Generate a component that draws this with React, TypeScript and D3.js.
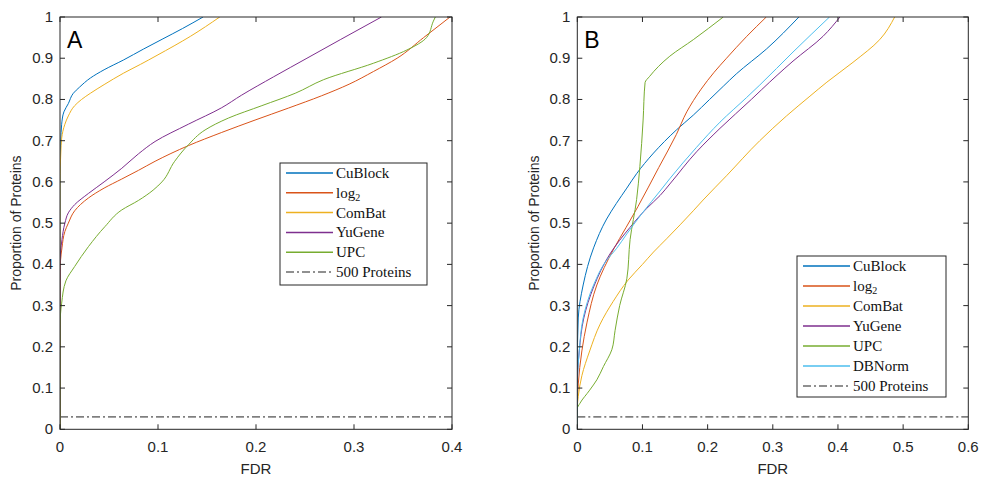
import React from "react";
import * as d3 from "d3";

// ---------- Data ----------
const yTicks = [0, 0.1, 0.2, 0.3, 0.4, 0.5, 0.6, 0.7, 0.8, 0.9, 1];
const xTicksA = [0, 0.1, 0.2, 0.3, 0.4];
const xTicksB = [0, 0.1, 0.2, 0.3, 0.4, 0.5, 0.6];
const thresholdValue = 0.03;

// Panel A series [FDR, proportion]
const cublockA: [number, number][] = [
  [0, 0], [0, 0.62], [0.0008, 0.7], [0.0017, 0.74], [0.004, 0.77], [0.0085, 0.79], [0.0136, 0.815],
  [0.02, 0.83], [0.031, 0.852], [0.045, 0.872], [0.065, 0.896], [0.085, 0.922], [0.105, 0.947],
  [0.125, 0.972], [0.146, 1],
];
const log2A: [number, number][] = [
  [0, 0], [0, 0.38], [0.002, 0.44], [0.005, 0.48], [0.0085, 0.5], [0.015, 0.53], [0.029, 0.561],
  [0.045, 0.585], [0.063, 0.607], [0.08, 0.628], [0.097, 0.65], [0.131, 0.688], [0.165, 0.72],
  [0.199, 0.75], [0.233, 0.779], [0.267, 0.809], [0.295, 0.837], [0.32, 0.868], [0.344, 0.9],
  [0.371, 0.95], [0.398, 1],
];
const combatA: [number, number][] = [
  [0, 0], [0, 0.6], [0.0008, 0.67], [0.0017, 0.706], [0.005, 0.74], [0.0085, 0.76], [0.015, 0.785],
  [0.022, 0.8], [0.031, 0.815], [0.045, 0.836], [0.065, 0.864], [0.082, 0.885], [0.099, 0.907],
  [0.133, 0.953], [0.163, 1],
];
const yugeneA: [number, number][] = [
  [0, 0], [0, 0.4], [0.002, 0.46], [0.005, 0.5], [0.0085, 0.525], [0.015, 0.545], [0.029, 0.572],
  [0.045, 0.6], [0.063, 0.633], [0.08, 0.668], [0.097, 0.698], [0.131, 0.74], [0.165, 0.78],
  [0.185, 0.81], [0.218, 0.855], [0.252, 0.9], [0.286, 0.945], [0.328, 1],
];
const upcA: [number, number][] = [
  [0, 0], [0, 0.25], [0.0017, 0.306], [0.006, 0.36], [0.015, 0.395], [0.029, 0.443], [0.046, 0.492],
  [0.063, 0.532], [0.08, 0.555], [0.095, 0.58], [0.104, 0.6], [0.117, 0.65], [0.131, 0.69],
  [0.148, 0.726], [0.172, 0.755], [0.206, 0.785], [0.24, 0.815], [0.269, 0.848], [0.32, 0.888],
  [0.354, 0.92], [0.374, 0.95], [0.381, 0.99], [0.383, 1],
];

// Panel B series [FDR, proportion]
const cublockB: [number, number][] = [
  [0, 0], [0, 0.15], [0.0015, 0.27], [0.009, 0.35], [0.025, 0.44], [0.045, 0.51], [0.06, 0.548],
  [0.076, 0.585], [0.091, 0.62], [0.117, 0.67], [0.152, 0.726], [0.178, 0.762], [0.203, 0.8],
  [0.224, 0.832], [0.244, 0.862], [0.29, 0.922], [0.34, 1],
];
const log2B: [number, number][] = [
  [0, 0], [0, 0.05], [0.0015, 0.11], [0.007, 0.19], [0.015, 0.26], [0.03, 0.35], [0.055, 0.435],
  [0.075, 0.49], [0.093, 0.54], [0.125, 0.635], [0.152, 0.715], [0.168, 0.77], [0.19, 0.825],
  [0.21, 0.866], [0.229, 0.9], [0.26, 0.953], [0.29, 1],
];
const combatB: [number, number][] = [
  [0, 0], [0, 0.05], [0.0015, 0.08], [0.007, 0.13], [0.019, 0.19], [0.035, 0.255], [0.055, 0.31],
  [0.078, 0.362], [0.1, 0.4], [0.117, 0.43], [0.137, 0.462], [0.178, 0.53], [0.193, 0.556],
  [0.229, 0.615], [0.28, 0.7], [0.321, 0.76], [0.357, 0.808], [0.383, 0.842], [0.423, 0.89],
  [0.464, 0.945], [0.487, 1],
];
const yugeneB: [number, number][] = [
  [0, 0], [0, 0.1], [0.003, 0.19], [0.01, 0.27], [0.025, 0.345], [0.05, 0.425], [0.081, 0.49],
  [0.106, 0.535], [0.127, 0.567], [0.142, 0.595], [0.183, 0.673], [0.219, 0.73], [0.267, 0.8],
  [0.283, 0.824], [0.331, 0.893], [0.377, 0.953], [0.403, 1],
];
const upcB: [number, number][] = [
  [0, 0], [0, 0.05], [0.004, 0.063], [0.019, 0.095], [0.03, 0.12], [0.04, 0.152], [0.053, 0.193],
  [0.058, 0.24], [0.065, 0.3], [0.076, 0.365], [0.081, 0.46], [0.091, 0.557], [0.096, 0.637],
  [0.101, 0.75], [0.104, 0.841], [0.111, 0.856], [0.142, 0.905], [0.178, 0.945], [0.224, 1],
];
const dbnormB: [number, number][] = [
  [0, 0], [0, 0.1], [0.003, 0.19], [0.009, 0.27], [0.025, 0.35], [0.045, 0.41], [0.06, 0.438],
  [0.076, 0.474], [0.101, 0.527], [0.127, 0.578], [0.142, 0.608], [0.183, 0.684], [0.219, 0.745],
  [0.26, 0.805], [0.28, 0.835], [0.331, 0.915], [0.387, 1],
];

const seriesNamesA = ["CuBlock", "log2", "ComBat", "YuGene", "UPC"];
const seriesNamesB = ["CuBlock", "log2", "ComBat", "YuGene", "UPC", "DBNorm"];
const thresholdName = "500 Proteins";

const COLORS: Record<string, string> = {
  CuBlock: "#0072BD",
  log2: "#D95319",
  ComBat: "#EDB120",
  YuGene: "#7E2F8E",
  UPC: "#77AC30",
  DBNorm: "#4DBEEE",
};

const dataA: Record<string, [number, number][]> = {
  CuBlock: cublockA, log2: log2A, ComBat: combatA, YuGene: yugeneA, UPC: upcA,
};
const dataB: Record<string, [number, number][]> = {
  CuBlock: cublockB, log2: log2B, ComBat: combatB, YuGene: yugeneB, UPC: upcB, DBNorm: dbnormB,
};

const AXIS = "#262626";
const TICK_FONT = "'Liberation Sans', Arial, sans-serif";
const LEGEND_FONT = "'Liberation Serif', 'DejaVu Serif', serif";
const DASH = "8,3,2,3";

type PanelProps = {
  id: string;
  letter: string;
  left: number;
  right: number;
  top: number;
  bottom: number;
  xMax: number;
  xTicks: number[];
  names: string[];
  data: Record<string, [number, number][]>;
  legend: { x: number; y: number; w: number; h: number; row: number };
  yLabelX: number;
};

function fmt(v: number) {
  return v === 0 ? "0" : v === 1 ? "1" : String(+v.toFixed(1));
}

function Panel(p: PanelProps) {
  const x = d3.scaleLinear().domain([0, p.xMax]).range([p.left, p.right]);
  const y = d3.scaleLinear().domain([0, 1]).range([p.bottom, p.top]);
  const line = d3
    .line<[number, number]>()
    .x((d) => x(d[0]))
    .y((d) => y(d[1]))
    .curve(d3.curveMonotoneY);
  const tl = 5;
  const lg = p.legend;
  const rows = [...p.names, thresholdName];
  return (
    <g>
      <defs>
        <clipPath id={"clip" + p.id}>
          <rect x={p.left} y={p.top} width={p.right - p.left} height={p.bottom - p.top} />
        </clipPath>
      </defs>
      <rect x={p.left} y={p.top} width={p.right - p.left} height={p.bottom - p.top} fill="#fff" />
      <g clipPath={`url(#clip${p.id})`}>
        <line
          x1={x(0)} x2={x(p.xMax)} y1={y(thresholdValue)} y2={y(thresholdValue)}
          stroke="#222" strokeWidth={1} strokeDasharray={DASH}
        />
        {p.names.map((n) => (
          <path key={n} d={line(p.data[n]) || ""} fill="none" stroke={COLORS[n]} strokeWidth={1} />
        ))}
      </g>
      {/* ticks */}
      {yTicks.map((t) => (
        <g key={"y" + t}>
          <line x1={p.left} x2={p.left + tl} y1={y(t)} y2={y(t)} stroke={AXIS} />
          <line x1={p.right} x2={p.right - tl} y1={y(t)} y2={y(t)} stroke={AXIS} />
          <text x={p.left - 7} y={y(t) + 5} textAnchor="end" fontFamily={TICK_FONT} fontSize={15} fill={AXIS}>
            {fmt(t)}
          </text>
        </g>
      ))}
      {p.xTicks.map((t) => (
        <g key={"x" + t}>
          <line x1={x(t)} x2={x(t)} y1={p.bottom} y2={p.bottom - tl} stroke={AXIS} />
          <line x1={x(t)} x2={x(t)} y1={p.top} y2={p.top + tl} stroke={AXIS} />
          <text x={x(t)} y={p.bottom + 23} textAnchor="middle" fontFamily={TICK_FONT} fontSize={15} fill={AXIS}>
            {fmt(t)}
          </text>
        </g>
      ))}
      <rect
        x={p.left} y={p.top} width={p.right - p.left} height={p.bottom - p.top}
        fill="none" stroke={AXIS} strokeWidth={1}
      />
      <text
        x={(p.left + p.right) / 2} y={p.bottom + 45} textAnchor="middle"
        fontFamily={TICK_FONT} fontSize={15} fill={AXIS}
      >
        FDR
      </text>
      <text
        transform={`translate(${p.yLabelX},${(p.top + p.bottom) / 2}) rotate(-90)`}
        textAnchor="middle" fontFamily={TICK_FONT} fontSize={14} fill={AXIS}
      >
        Proportion of Proteins
      </text>
      <text x={p.left + 7} y={p.top + 31} fontFamily={TICK_FONT} fontSize={23} fill="#000">
        {p.letter}
      </text>
      {/* legend */}
      <rect x={lg.x} y={lg.y} width={lg.w} height={lg.h} fill="#fff" stroke="#262626" strokeWidth={1} />
      {rows.map((n, i) => {
        const cy = lg.y + 10 + i * lg.row;
        const isThr = n === thresholdName;
        return (
          <g key={n}>
            <line
              x1={lg.x + 6} x2={lg.x + 53} y1={cy} y2={cy}
              stroke={isThr ? "#222" : COLORS[n]} strokeWidth={isThr ? 1.2 : 1.5}
              strokeDasharray={isThr ? DASH : undefined}
            />
            <text x={lg.x + 56} y={cy + 5} fontFamily={LEGEND_FONT} fontSize={15} fill="#111">
              {n === "log2" ? (
                <>
                  log<tspan fontSize={10} dy={3}>2</tspan>
                </>
              ) : (
                n
              )}
            </text>
          </g>
        );
      })}
    </g>
  );
}

export default function App() {
  return (
    <svg
      width={982}
      height={477}
      style={{ position: "absolute", left: 0, top: 0, background: "#fff" }}
    >
      <rect width={982} height={477} fill="#fff" />
      <Panel
        id="A" letter="A" left={60} right={452} top={17} bottom={429.3}
        xMax={0.4} xTicks={xTicksA} names={seriesNamesA} data={dataA}
        legend={{ x: 280, y: 163, w: 147, h: 122, row: 19.8 }} yLabelX={21}
      />
      <Panel
        id="B" letter="B" left={577.3} right={968.3} top={17} bottom={429.3}
        xMax={0.6} xTicks={xTicksB} names={seriesNamesB} data={dataB}
        legend={{ x: 797, y: 256, w: 149, h: 141, row: 20 }} yLabelX={539}
      />
    </svg>
  );
}
